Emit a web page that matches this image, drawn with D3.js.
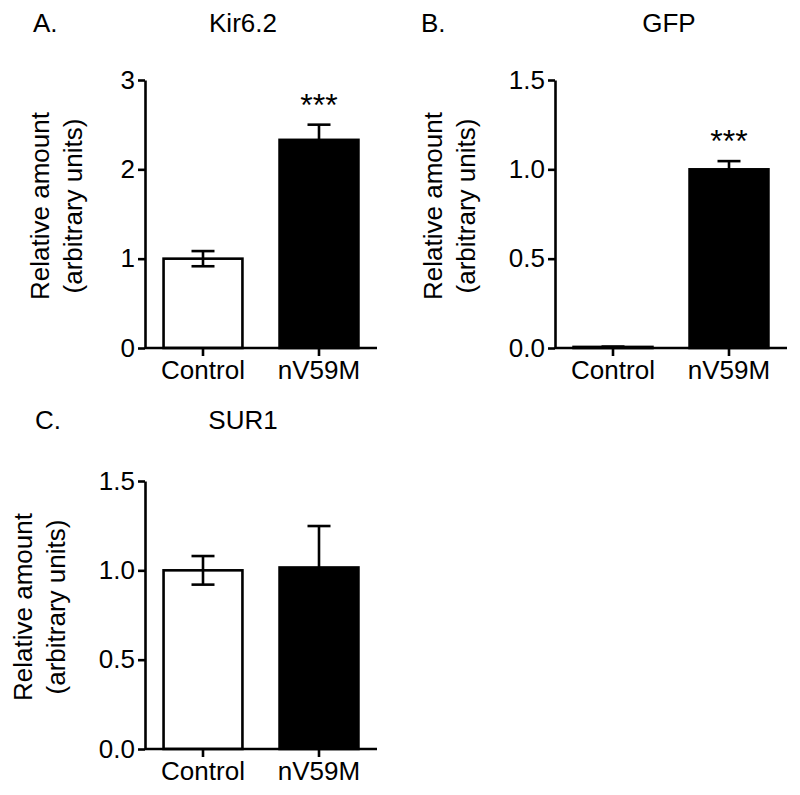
<!DOCTYPE html>
<html>
<head>
<meta charset="utf-8">
<script src="https://cdn.jsdelivr.net/npm/d3@7"></script>
<style>
  body { margin: 0; background: #fff; }
  svg text { font-family: "Liberation Sans", Arial, sans-serif; fill: #000; }
</style>
</head>
<body>
<svg class="chart"></svg>
<script>
/* data */
const groups = ["Control", "nV59M"]

const kirMean = [1.0, 2.33]
const kirSem = [0.085, 0.17]
const kirTicks = [0, 1, 2, 3]

const gfpMean = [0.006, 1.0]
const gfpSem = [0.002, 0.046]
const gfpTicks = [0, 0.5, 1.0, 1.5]

const surMean = [1.0, 1.016]
const surSem = [0.08, 0.232]
const surTicks = [0, 0.5, 1.0, 1.5]

const fills = ["#fff", "#000"]

/* overall svg size */
const width = 800,
      height = 795

const chart = d3.select(".chart")
  .attr("width", width)
  .attr("height", height)

/* each panel: where the axes sit, and where titles / labels go */
const panels = [
  { letter: "A.", title: "Kir6.2", mean: kirMean, sem: kirSem, ticks: kirTicks, fmt: d3.format("d"), stars: "***",
    x0: 145, x1: 377, yTop: 80, yBottom: 348, letterX: 33, titleX: 243, titleY: 32, labX: 40, labY: 206 },
  { letter: "B.", title: "GFP", mean: gfpMean, sem: gfpSem, ticks: gfpTicks, fmt: d3.format(".1f"), stars: "***",
    x0: 555, x1: 787, yTop: 80, yBottom: 348, letterX: 421, titleX: 669, titleY: 32, labX: 433, labY: 206 },
  { letter: "C.", title: "SUR1", mean: surMean, sem: surSem, ticks: surTicks, fmt: d3.format(".1f"), stars: null,
    x0: 145, x1: 377, yTop: 481, yBottom: 749, letterX: 35, titleX: 243, titleY: 429, labX: 23, labY: 607 }
]

panels.forEach(p => drawPanel(p))

function drawPanel (p) {
  const g = chart.append("g").attr("class", "panel")

  const x = d3.scaleBand()
    .domain(groups)
    .range([p.x0, p.x1])
    .paddingInner(0.32)
    .paddingOuter(0.16)

  const y = d3.scaleLinear()
    .domain([0, d3.max(p.ticks)])
    .range([p.yBottom, p.yTop])

  const rows = groups.map((k, i) => ({ key: k, mean: p.mean[i], sem: p.sem[i], fill: fills[i] }))

  /*bars*/
  g.selectAll(".bar")
    .data(rows)
    .enter()
    .append("rect")
      .attr("class", "bar")
      .attr("x", d => x(d.key))
      .attr("width", x.bandwidth())
      .attr("y", d => y(d.mean))
      .attr("height", d => y(0) - y(d.mean))
      .attr("fill", d => d.fill)
      .attr("stroke", "#000")
      .attr("stroke-width", 2.6)

  /*error bars*/
  const capW = 23
  const err = g.selectAll(".err")
    .data(rows)
    .enter()
    .append("g")
      .attr("class", "err")
      .attr("stroke", "#000")
      .attr("stroke-width", 2.6)

  err.append("line")
    .attr("x1", d => x(d.key) + x.bandwidth() / 2)
    .attr("x2", d => x(d.key) + x.bandwidth() / 2)
    .attr("y1", d => y(d.mean - d.sem))
    .attr("y2", d => y(d.mean + d.sem))
  err.append("line")
    .attr("x1", d => x(d.key) + x.bandwidth() / 2 - capW / 2)
    .attr("x2", d => x(d.key) + x.bandwidth() / 2 + capW / 2)
    .attr("y1", d => y(d.mean + d.sem))
    .attr("y2", d => y(d.mean + d.sem))
  err.append("line")
    .attr("x1", d => x(d.key) + x.bandwidth() / 2 - capW / 2)
    .attr("x2", d => x(d.key) + x.bandwidth() / 2 + capW / 2)
    .attr("y1", d => y(d.mean - d.sem))
    .attr("y2", d => y(d.mean - d.sem))

  /*axes*/
  const yAxis = g.append("g")
    .attr("transform", "translate(" + p.x0 + ",0)")
    .call(d3.axisLeft(y).tickValues(p.ticks).tickFormat(p.fmt).tickSize(7).tickSizeOuter(0).tickPadding(3))

  const xAxis = g.append("g")
    .attr("transform", "translate(0," + p.yBottom + ")")
    .call(d3.axisBottom(x).tickSize(8).tickSizeOuter(0).tickPadding(5))

  ;[yAxis, xAxis].forEach(a => {
    a.select(".domain").attr("stroke-width", 2.6)
    a.selectAll(".tick line").attr("stroke-width", 2.6)
    a.selectAll("text").style("font-size", "26px").attr("fill", "#000")
  })
  xAxis.select(".domain").attr("d", "M" + p.x0 + ",0H" + p.x1)

  /*significance stars*/
  if (p.stars) {
    const d = rows[1]
    g.append("text")
      .attr("x", x(d.key) + x.bandwidth() / 2)
      .attr("y", y(d.mean + d.sem) - 9)
      .attr("text-anchor", "middle")
      .style("font-size", "32px")
      .text(p.stars)
  }

  /*panel letter and title*/
  g.append("text")
    .attr("x", p.letterX)
    .attr("y", p.titleY)
    .style("font-size", "26px")
    .text(p.letter)

  g.append("text")
    .attr("x", p.titleX)
    .attr("y", p.titleY)
    .attr("text-anchor", "middle")
    .style("font-size", "26px")
    .text(p.title)

  /*y axis label, two lines*/
  const lab = g.append("g")
  ;["Relative amount", "(arbitrary units)"].forEach((t, i) => {
    lab.append("text")
      .attr("transform", "translate(" + (p.labX + i * 32.5) + "," + p.labY + ") rotate(-90)")
      .attr("text-anchor", "middle")
      .attr("dy", "0.35em")
      .style("font-size", "26px")
      .text(t)
  })
}
</script>
</body>
</html>
